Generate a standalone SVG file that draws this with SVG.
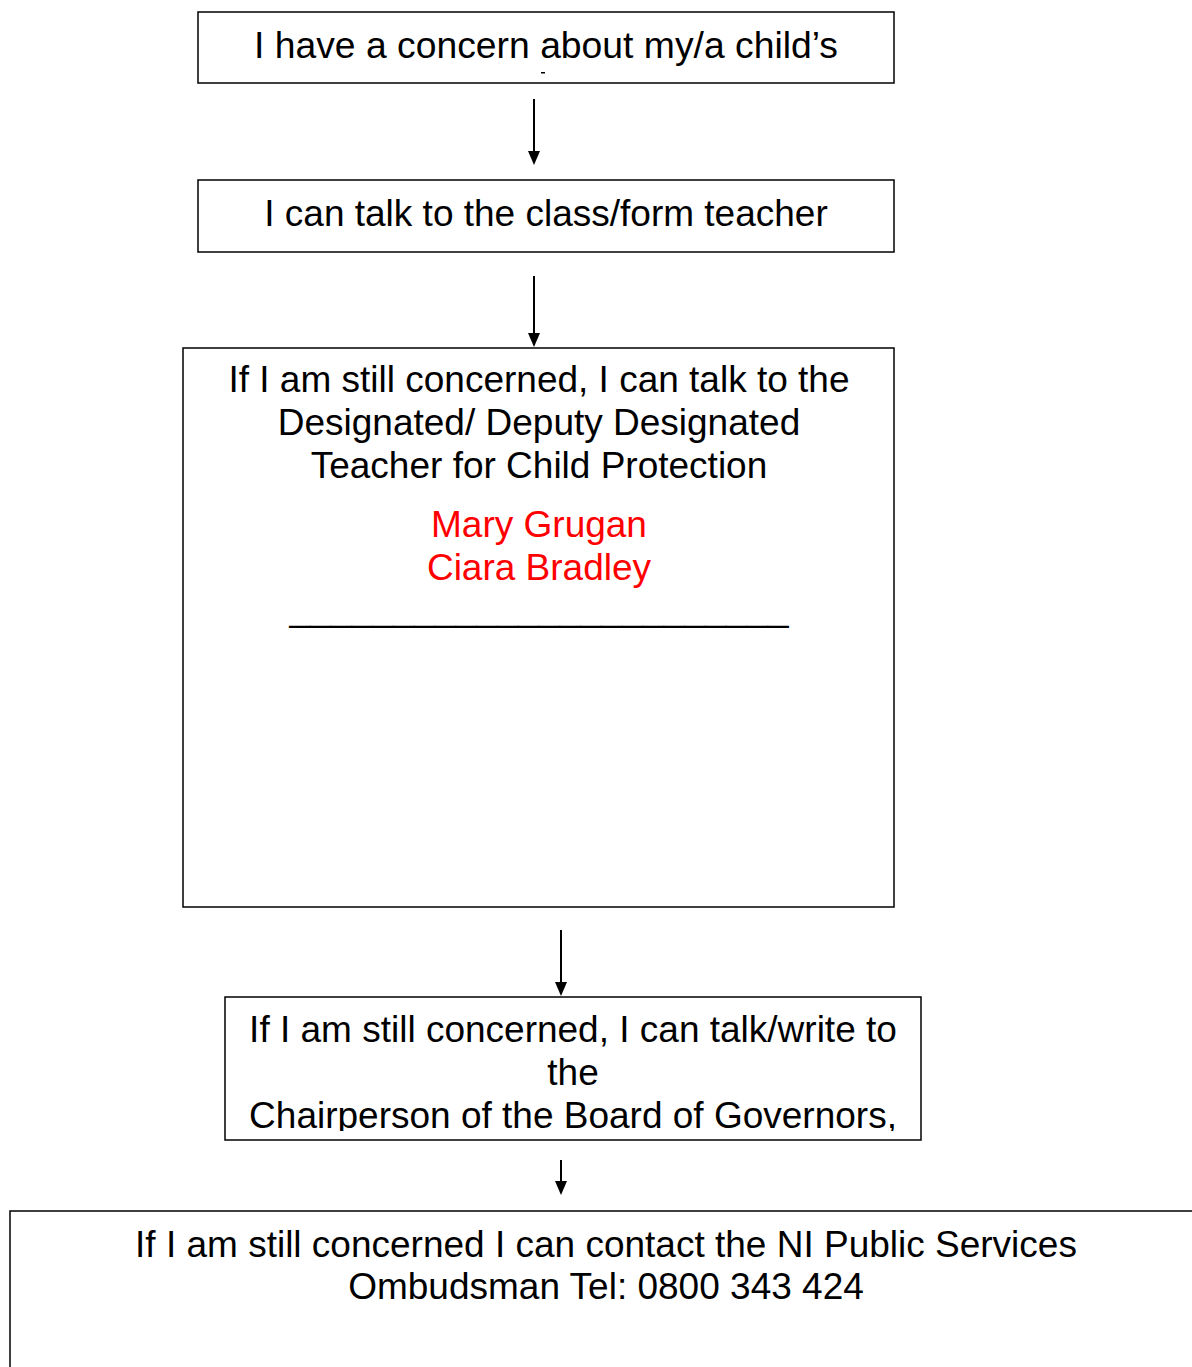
<svg xmlns="http://www.w3.org/2000/svg" width="1192" height="1367" viewBox="0 0 1192 1367">
<style>
.box{fill:#fff;stroke:#000;stroke-width:1.5}
.t{font-family:"Liberation Sans",Arial,sans-serif;font-size:37px;fill:#000;text-anchor:middle}
.red{fill:#ff0000}
.con{stroke:#000;stroke-width:2;fill:none}
</style>
<defs>
<marker id="ah" markerWidth="12" markerHeight="14" refX="6" refY="14" orient="auto-start-reverse" markerUnits="userSpaceOnUse" viewBox="0 0 12 14">
<path d="M0,0 L12,0 L6,14 Z" fill="#000"/>
</marker>
<clipPath id="c1"><rect x="198" y="12" width="696" height="64"/></clipPath>
<clipPath id="c4"><rect x="225" y="997" width="696" height="134"/></clipPath>
</defs>
<g id="connectors">
<line class="con" x1="534" y1="99" x2="534" y2="151"/>
<path d="M528,151 L540,151 L534,165 Z" fill="#000"/>
<line class="con" x1="534" y1="276" x2="534" y2="333"/>
<path d="M528,333 L540,333 L534,347 Z" fill="#000"/>
<line class="con" x1="561" y1="930" x2="561" y2="982"/>
<path d="M555,982 L567,982 L561,996 Z" fill="#000"/>
<line class="con" x1="561" y1="1160" x2="561" y2="1181"/>
<path d="M555,1181 L567,1181 L561,1195 Z" fill="#000"/>
</g>
<g id="n1">
<rect class="box" x="198" y="12" width="696" height="71"/>
<g clip-path="url(#c1)">
<text class="t" x="546" y="58" textLength="584" lengthAdjust="spacingAndGlyphs">I have a concern about my/a child’s</text>
<rect x="541" y="72" width="4" height="1.5" fill="#000"/>
</g>
</g>
<g id="n2">
<rect class="box" x="198" y="180" width="696" height="72"/>
<text class="t" x="546" y="226">I can talk to the class/form teacher</text>
</g>
<g id="n3">
<rect class="box" x="183" y="348" width="711" height="559"/>
<text class="t" x="539" y="392">If I am still concerned, I can talk to the</text>
<text class="t" x="539" y="435">Designated/ Deputy Designated</text>
<text class="t" x="539" y="478">Teacher for Child Protection</text>
<text class="t red" x="539" y="537">Mary Grugan</text>
<text class="t red" x="539" y="580">Ciara Bradley</text>
<text class="t" x="539" y="621" textLength="499" lengthAdjust="spacingAndGlyphs">________________________</text>
</g>
<g id="n4">
<rect class="box" x="225" y="997" width="696" height="143"/>
<g clip-path="url(#c4)">
<text class="t" x="573" y="1042">If I am still concerned, I can talk/write to</text>
<text class="t" x="573" y="1085">the</text>
<text class="t" x="573" y="1128">Chairperson of the Board of Governors,</text>
</g>
</g>
<g id="n5">
<rect class="box" x="10" y="1211" width="1200" height="200"/>
<text class="t" x="606" y="1257">If I am still concerned I can contact the NI Public Services</text>
<text class="t" x="606" y="1299">Ombudsman Tel: 0800 343 424</text>
</g>
</svg>
